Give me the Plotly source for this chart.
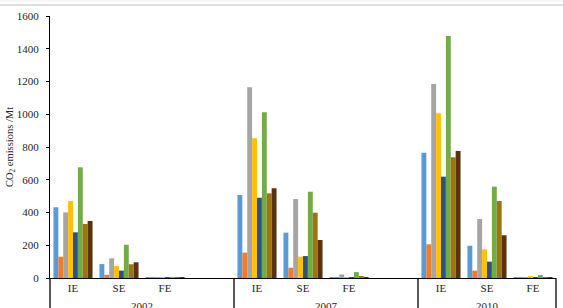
import plotly.graph_objects as go

years = ["2002", "2007", "2010"]
cats = ["IE", "SE", "FE"]
series_names = ["S1", "S2", "S3", "S4", "S5", "S6", "S7", "S8"]
colors = ["#5B9BD5", "#ED7D31", "#A5A5A5", "#FFC000", "#2E5082", "#70AD47", "#9C7410", "#5A3210"]

# values[series][year][category]
s1 = [[432, 85, 3], [507, 277, 5], [765, 197, 5]]
s2 = [[130, 20, 1], [155, 63, 2], [206, 45, 3]]
s3 = [[401, 120, 4], [1165, 482, 22], [1185, 360, 6]]
s4 = [[470, 73, 2], [853, 130, 4], [1006, 175, 8]]
s5 = [[279, 45, 1], [490, 134, 3], [619, 100, 3]]
s6 = [[676, 203, 6], [1012, 527, 36], [1478, 558, 18]]
s7 = [[330, 84, 2], [517, 399, 8], [737, 470, 5]]
s8 = [[348, 96, 2], [548, 232, 6], [776, 261, 4]]
series = [s1, s2, s3, s4, s5, s6, s7, s8]

y_ticks = [0, 200, 400, 600, 800, 1000, 1200, 1400, 1600]

# slot layout: each year group has 4 slots (last empty) except the final one
group_start = [0, 4, 8]
n_slots = 11
xs = []
for gi, y in enumerate(years):
    for ci, c in enumerate(cats):
        xs.append(group_start[gi] + ci)

fig = go.Figure()
for name, col, data in zip(series_names, colors, series):
    vals = [v for yr in data for v in yr]
    fig.add_trace(go.Bar(x=xs, y=vals, name=name, marker_color=col,
                         marker_line_width=0, showlegend=False))

FONT = "Liberation Serif, Times New Roman, serif"
TXT = "#262626"

fig.update_layout(
    width=563, height=308,
    margin=dict(l=50, r=7, t=16, b=30),
    paper_bgcolor="white", plot_bgcolor="white",
    barmode="group", bargap=0.15, bargroupgap=0,
    font=dict(family=FONT, size=11, color=TXT),
)
fig.update_xaxes(range=[-0.5, n_slots - 0.5], tickmode="array", tickvals=xs,
                 ticktext=cats * 3, showgrid=False, zeroline=False,
                 showline=True, linecolor="black", linewidth=1.3, ticks="",
                 tickfont=dict(family=FONT, size=11, color=TXT))
fig.update_yaxes(range=[0, 1600], tickvals=y_ticks, showgrid=False, zeroline=False,
                 showline=True, linecolor="black", linewidth=1.3, ticks="outside",
                 ticklen=3, tickcolor="black", ticklabelstandoff=5,
                 tickfont=dict(family=FONT, size=11, color=TXT))

shapes = []
# vertical group dividers extending below the axis
for xb in [-0.5, 3.5, 7.5, n_slots - 0.5]:
    xp = (xb + 0.5) / n_slots
    shapes.append(dict(type="line", xref="paper", yref="paper", x0=xp, x1=xp,
                       y0=0, y1=-0.2, line=dict(color="black", width=1.3)))
# outer chart border lines at top
shapes.append(dict(type="line", xref="paper", yref="paper", x0=-0.2, x1=1.1,
                   y0=(278 - 5) / 262, y1=(278 - 5) / 262,
                   line=dict(color="#BDBDBD", width=1.2)))
shapes.append(dict(type="line", xref="paper", yref="paper", x0=-0.2, x1=1.1,
                   y0=(278 - 1) / 262, y1=(278 - 1) / 262,
                   line=dict(color="#EEEEEE", width=1)))
fig.update_layout(shapes=shapes)

annotations = []
group_bounds = [(-0.5, 3.5), (3.5, 7.5), (7.5, n_slots - 0.5)]
for yr, (a, b) in zip(years, group_bounds):
    xc = ((a + b) / 2 + 0.5) / n_slots
    annotations.append(dict(text=yr, x=xc, y=-28 / 262, xref="paper", yref="paper",
                            showarrow=False, xanchor="center", yanchor="middle",
                            font=dict(family=FONT, size=11, color=TXT)))
annotations.append(dict(text="CO<sub>2</sub> emissions /Mt", x=-40 / 506.5, y=0.5,
                        xref="paper", yref="paper", showarrow=False, textangle=-90,
                        xanchor="center", yanchor="middle",
                        font=dict(family=FONT, size=10.5, color=TXT)))
fig.update_layout(annotations=annotations)

fig.write_html("out.html")
